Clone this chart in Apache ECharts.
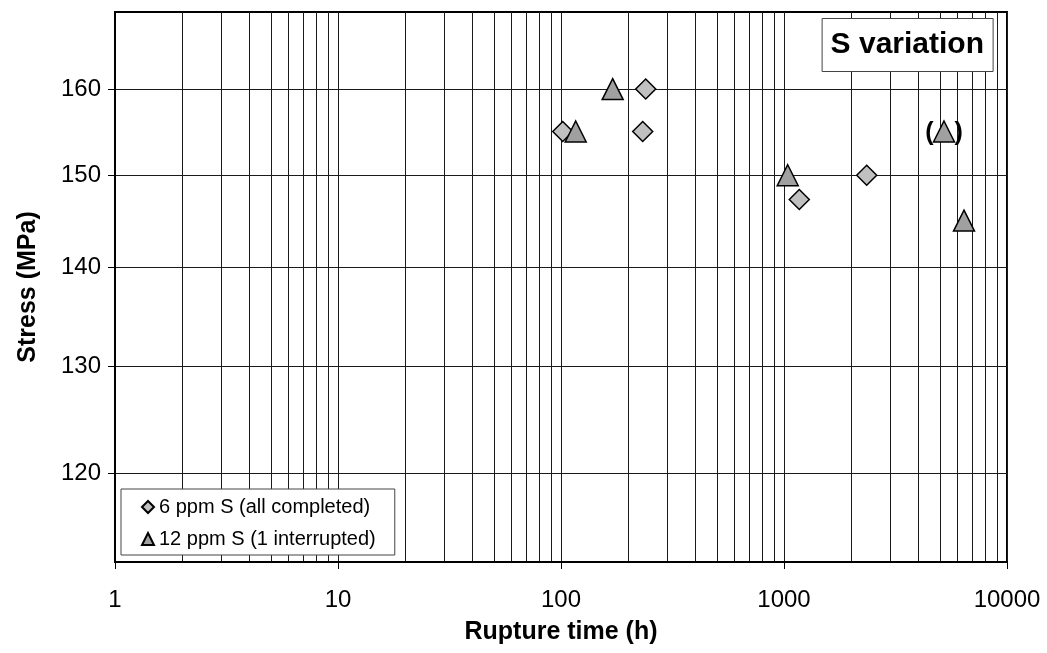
<!DOCTYPE html>
<html>
<head>
<meta charset="utf-8">
<title>S variation</title>
<script src="https://cdn.jsdelivr.net/npm/echarts@6/dist/echarts.min.js"></script>
<style>
  html, body { margin: 0; padding: 0; background: #fff; }
  #chart { width: 1047px; height: 653px; }
</style>
</head>
<body>
<div id="chart"></div>
<script>
// Creep rupture results for two sulphur levels
const seriesNames = ['6 ppm S (all completed)', '12 ppm S (1 interrupted)'];

const sixPpmHours = [101.8, 239.8, 232.5, 2349, 1171];
const sixPpmStress = [155, 160, 155, 150, 147.3];

const twelvePpmHours = [116.4, 170.5, 1039, 5218, 6415];
const twelvePpmStress = [155, 160, 150, 155, 145];
const interruptedIndex = 3; // test stopped before rupture

const xDecades = [1, 10, 100, 1000, 10000];
const yTicks = [120, 130, 140, 150, 160];
const xRange = [1, 10000];
const yRange = [112.3, 169.5];

// grid lines at 1..9 times every decade
const xGridValues = [];
xDecades.forEach(function (d, i) {
  if (i === xDecades.length - 1) { xGridValues.push(d); return; }
  for (let k = 1; k <= 9; k++) xGridValues.push(d * k);
});

const FONT = 'Liberation Sans, Arial, sans-serif';

const sixPoints = sixPpmHours.map(function (h, i) { return [h, sixPpmStress[i]]; });
const twelvePoints = twelvePpmHours.map(function (h, i) {
  const p = { value: [h, twelvePpmStress[i]] };
  if (i === interruptedIndex) {
    p.label = {
      show: true,
      position: 'inside',
      formatter: '(   )',
      fontFamily: FONT,
      fontSize: 25,
      fontWeight: 'bold',
      color: '#000',
      offset: [0, 2]
    };
  }
  return p;
});

const chart = echarts.init(document.getElementById('chart'), null, { renderer: 'canvas' });

chart.setOption({
  backgroundColor: '#fff',
  animation: false,
  textStyle: { fontFamily: FONT },
  title: {
    text: 'S variation',
    right: 54,
    top: 18,
    backgroundColor: '#fff',
    borderColor: '#444',
    borderWidth: 1,
    padding: [12, 9, 12, 9],
    textStyle: { fontFamily: FONT, fontSize: 30, fontWeight: 'bold', color: '#000' }
  },
  legend: {
    orient: 'vertical',
    left: 121,
    top: 489,
    backgroundColor: '#fff',
    borderColor: '#444',
    borderWidth: 1,
    padding: [8, 19, 6, 20],
    itemGap: 12,
    itemWidth: 12,
    itemHeight: 12,
    textStyle: { fontFamily: FONT, fontSize: 20, color: '#000' },
    data: seriesNames
  },
  grid: {
    left: 115,
    right: 40,
    top: 12,
    bottom: 91,
    show: true,
    borderColor: '#000',
    borderWidth: 2,
    backgroundColor: 'transparent'
  },
  xAxis: [
    {
      type: 'log',
      logBase: 10,
      min: xRange[0],
      max: xRange[1],
      position: 'bottom',
      name: 'Rupture time (h)',
      nameLocation: 'middle',
      nameGap: 58,
      nameTextStyle: { fontFamily: FONT, fontSize: 25, fontWeight: 'bold', color: '#000' },
      axisLine: { show: true, lineStyle: { color: '#000', width: 2 } },
      axisTick: { show: true, inside: false, length: 7, customValues: xDecades, lineStyle: { color: '#000', width: 1 } },
      axisLabel: { customValues: xDecades, margin: 26, fontFamily: FONT, fontSize: 24, color: '#000', formatter: function (v) { return String(v); } },
      splitLine: { show: false }
    },
    {
      type: 'log',
      logBase: 10,
      min: xRange[0],
      max: xRange[1],
      position: 'bottom',
      axisLine: { show: false },
      axisTick: { show: false, customValues: xGridValues },
      axisLabel: { show: false },
      splitLine: { show: true, lineStyle: { color: '#1a1a1a', width: 1 } }
    }
  ],
  yAxis: {
    type: 'log',
    logBase: 10,
    min: yRange[0],
    max: yRange[1],
    name: 'Stress (MPa)',
    nameLocation: 'middle',
    nameGap: 74,
    nameRotate: 90,
    nameTextStyle: { fontFamily: FONT, fontSize: 25, fontWeight: 'bold', color: '#000' },
    axisLine: { show: true, lineStyle: { color: '#000', width: 2 } },
    axisTick: { show: true, inside: false, length: 7, customValues: yTicks, lineStyle: { color: '#000', width: 1 } },
    axisLabel: { customValues: yTicks, margin: 14, fontFamily: FONT, fontSize: 24, color: '#000', formatter: function (v) { return String(v); } },
    splitLine: { show: true, lineStyle: { color: '#1a1a1a', width: 1 } }
  },
  series: [
    {
      name: seriesNames[0],
      type: 'scatter',
      xAxisIndex: 0,
      symbol: 'diamond',
      symbolSize: 20,
      itemStyle: { color: '#c0c0c0', borderColor: '#000', borderWidth: 1.5, opacity: 1 },
      emphasis: { disabled: true },
      data: sixPoints,
      z: 3
    },
    {
      name: seriesNames[1],
      type: 'scatter',
      xAxisIndex: 0,
      symbol: 'triangle',
      symbolSize: 21,
      itemStyle: { color: '#a0a0a0', borderColor: '#000', borderWidth: 1.5, opacity: 1 },
      emphasis: { disabled: true },
      data: twelvePoints,
      z: 3
    }
  ]
});
</script>
</body>
</html>
